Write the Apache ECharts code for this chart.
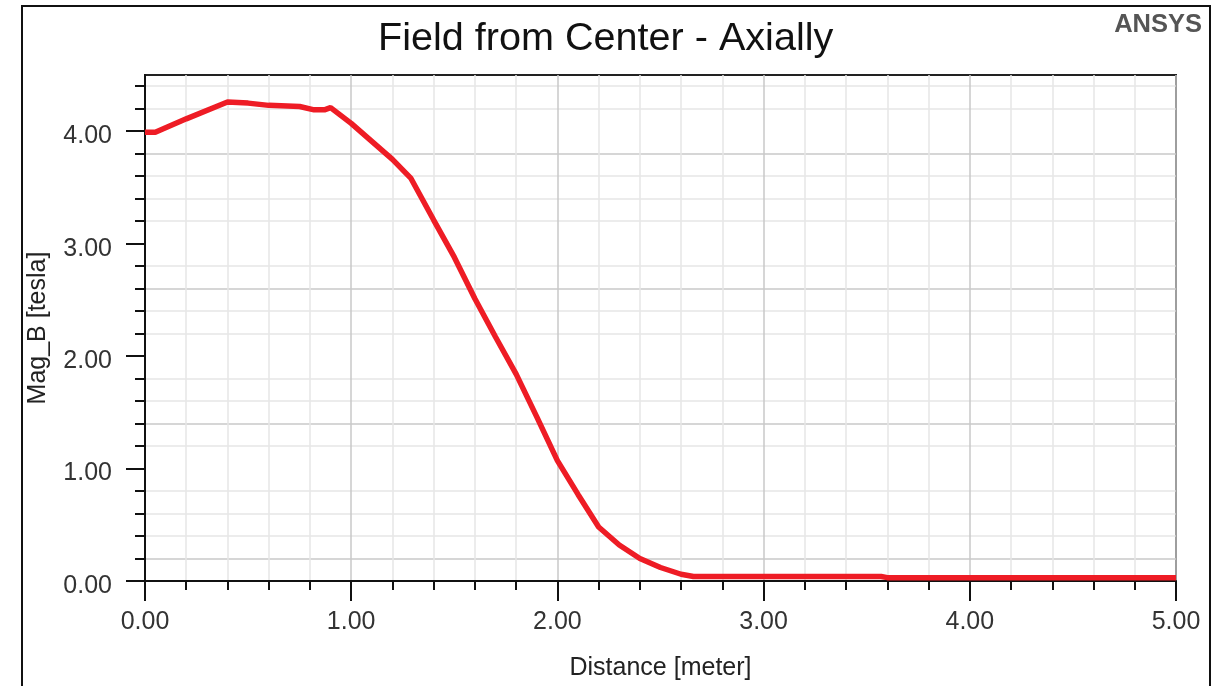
<!DOCTYPE html>
<html>
<head>
<meta charset="utf-8">
<script src="https://cdn.jsdelivr.net/npm/echarts@6/dist/echarts.min.js"></script>
<style>
html,body{margin:0;padding:0;background:#fff;}
#chart{width:1227px;height:686px;}
</style>
</head>
<body>
<div id="chart"></div>
<script>
// Data
var distance = [0, 0.05, 0.2, 0.4, 0.5, 0.6, 0.75, 0.82, 0.87, 0.9, 1.0, 1.1, 1.2, 1.29, 1.4, 1.5, 1.6, 1.7, 1.8, 1.9, 2.0, 2.1, 2.2, 2.3, 2.4, 2.5, 2.6, 2.66, 3.57, 3.6, 5.0];
var magB = [3.99, 3.99, 4.11, 4.26, 4.25, 4.23, 4.22, 4.19, 4.19, 4.21, 4.07, 3.91, 3.75, 3.58, 3.21, 2.88, 2.51, 2.17, 1.84, 1.46, 1.07, 0.77, 0.48, 0.32, 0.20, 0.12, 0.06, 0.04, 0.04, 0.03, 0.03];
var yMajorTicks = [0, 1, 2, 3, 4];
var yMinorTicks = [0.2, 0.4, 0.6, 0.8, 1.2, 1.4, 1.6, 1.8, 2.2, 2.4, 2.6, 2.8, 3.2, 3.4, 3.6, 3.8, 4.2, 4.4];
var titleText = 'Field from Center - Axially';
var xName = 'Distance [meter]';
var yName = 'Mag_B [tesla]';

var FONT = '"Liberation Sans", Arial, sans-serif';
var MAJOR = '#c8c8c8', MINOR = '#e6e6e6';

var chart = echarts.init(document.getElementById('chart'));
var pts = distance.map(function (d, i) { return [d, magB[i]]; });

chart.setOption({
  animation: false,
  backgroundColor: '#fff',
  title: [{
    text: titleText, left: 378, top: 19, padding: 0,
    textStyle: { fontFamily: FONT, fontSize: 39.6, fontWeight: 'normal', color: '#111' }
  }, {
    text: 'ANSYS', right: 25, top: 12, padding: 0,
    textStyle: { fontFamily: FONT, fontSize: 25.5, fontWeight: 'bold', color: '#555' }
  }],
  graphic: [{
    type: 'rect', z: 100, silent: true,
    shape: { x: 22, y: 6, width: 1188, height: 700 },
    style: { fill: 'none', stroke: '#111', lineWidth: 2 }
  }],
  grid: {
    left: 145, right: 51, top: 75, bottom: 105,
    show: true, borderColor: '#222', borderWidth: 2, backgroundColor: 'transparent'
  },
  xAxis: {
    type: 'value', min: 0, max: 5, interval: 1,
    name: xName, nameLocation: 'middle', nameGap: 75,
    nameTextStyle: { fontFamily: FONT, fontSize: 25, color: '#222' },
    axisLine: { show: true, lineStyle: { color: '#111', width: 2 } },
    axisTick: { show: true, length: 20, lineStyle: { color: '#111', width: 2 } },
    minorTick: { show: true, splitNumber: 5, length: 9, lineStyle: { color: '#111', width: 2 } },
    axisLabel: { margin: 29, fontFamily: FONT, fontSize: 25, color: '#333',
      formatter: function (v) { return v.toFixed(2); } },
    splitLine: { show: true, lineStyle: { color: MAJOR, width: 1.5 } },
    minorSplitLine: { show: true, lineStyle: { color: MINOR, width: 1.5 } }
  },
  yAxis: [{
    type: 'value', min: 0, max: 4.5, interval: 1, position: 'left',
    name: yName, nameLocation: 'middle', nameGap: 94,
    nameTextStyle: { fontFamily: FONT, fontSize: 25, color: '#222' },
    axisLine: { show: true, lineStyle: { color: '#111', width: 2 } },
    axisTick: { show: true, length: 19, customValues: yMajorTicks, lineStyle: { color: '#111', width: 2 } },
    axisLabel: { margin: 33, customValues: yMajorTicks, fontFamily: FONT, fontSize: 25, color: '#333',
      verticalAlign: 'top', lineHeight: 10,
      formatter: function (v) { return v.toFixed(2); } },
    splitLine: { show: false }
  }, {
    type: 'value', min: 0, max: 4.5, interval: 0.2, position: 'left',
    axisLine: { show: false },
    axisTick: { show: true, length: 10, customValues: yMinorTicks, lineStyle: { color: '#111', width: 2 } },
    axisLabel: { show: false },
    splitLine: { show: true, lineStyle: { color: [MAJOR, MINOR, MINOR, MINOR, MINOR], width: 1.5 } }
  }],
  series: [{
    type: 'line', data: pts, yAxisIndex: 0, showSymbol: false, symbol: 'none',
    lineStyle: { color: '#ee1c25', width: 5.5 }, z: 5
  }]
});
</script>
</body>
</html>
